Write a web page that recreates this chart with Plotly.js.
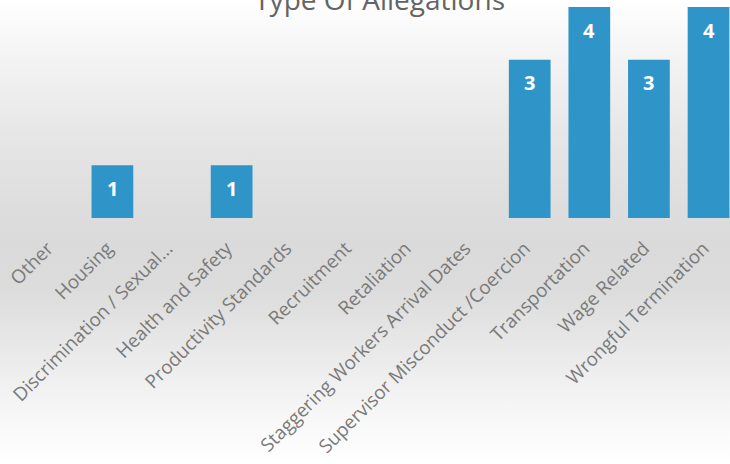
<!DOCTYPE html>
<html>
<head>
<meta charset="utf-8">
<script src="https://cdn.plot.ly/plotly-3.0.1.min.js"></script>
<style>
  html, body { margin: 0; padding: 0; }
  body {
    width: 730px; height: 464px; overflow: hidden;
    background: linear-gradient(to bottom, #ffffff 0px, #f3f3f3 60px, #e4e4e4 150px, #dadada 240px, #dcdcdc 290px, #e9e9e9 350px, #f8f8f8 420px, #ffffff 464px);
  }
  #chart { width: 730px; height: 464px; }
</style>
</head>
<body>
<div id="chart"></div>
<script>
const categories = [
  "Other",
  "Housing",
  "Discrimination / Sexual...",
  "Health and Safety",
  "Productivity Standards",
  "Recruitment",
  "Retaliation",
  "Staggering Workers Arrival Dates",
  "Supervisor Misconduct /Coercion",
  "Transportation",
  "Wage Related",
  "Wrongful Termination"
];
const counts = [0, 1, 0, 1, 0, 0, 0, 0, 3, 4, 3, 4];
const chartTitle = "Type Of Allegations";

const barColor = "#2f94c8";
const labelColor = "#7a7a7a";

const annotations = categories
  .map((c, i) => ({ c, v: counts[i] }))
  .filter(d => d.v > 0)
  .map(d => ({
    x: d.c, y: d.v, xref: "x", yref: "y",
    text: "<b>" + d.v + "</b>",
    showarrow: false, yanchor: "middle", yshift: -23,
    font: { family: "Open Sans, sans-serif", size: 20, color: "#ffffff" }
  }));

const trace = {
  type: "bar",
  x: categories,
  y: counts,
  width: 0.7,
  marker: { color: barColor, line: { width: 0 } },
  hoverinfo: "x+y"
};

const layout = {
  width: 730, height: 464,
  margin: { l: 23, r: 0, t: 0, b: 246, pad: 0 },
  paper_bgcolor: "rgba(0,0,0,0)",
  plot_bgcolor: "rgba(0,0,0,0)",
  showlegend: false,
  title: {
    text: chartTitle,
    x: 0.52, xanchor: "center",
    yref: "container", y: 1, yanchor: "middle",
    font: { family: "Open Sans, sans-serif", size: 28, color: "#646464" }
  },
  xaxis: {
    type: "category",
    range: [-0.5, 11.36],
    tickangle: -45,
    showgrid: false, zeroline: false, showline: false,
    ticks: "outside", ticklen: 11, tickcolor: "rgba(0,0,0,0)",
    ticklabelshift: -5,
    tickfont: { family: "Open Sans, sans-serif", size: 18.8, color: labelColor },
    automargin: false
  },
  yaxis: {
    range: [0, 4.133],
    showgrid: false, zeroline: false, showline: false,
    showticklabels: false, ticks: ""
  },
  annotations: annotations
};

Plotly.newPlot("chart", [trace], layout, { staticPlot: true, displayModeBar: false });
</script>
</body>
</html>
